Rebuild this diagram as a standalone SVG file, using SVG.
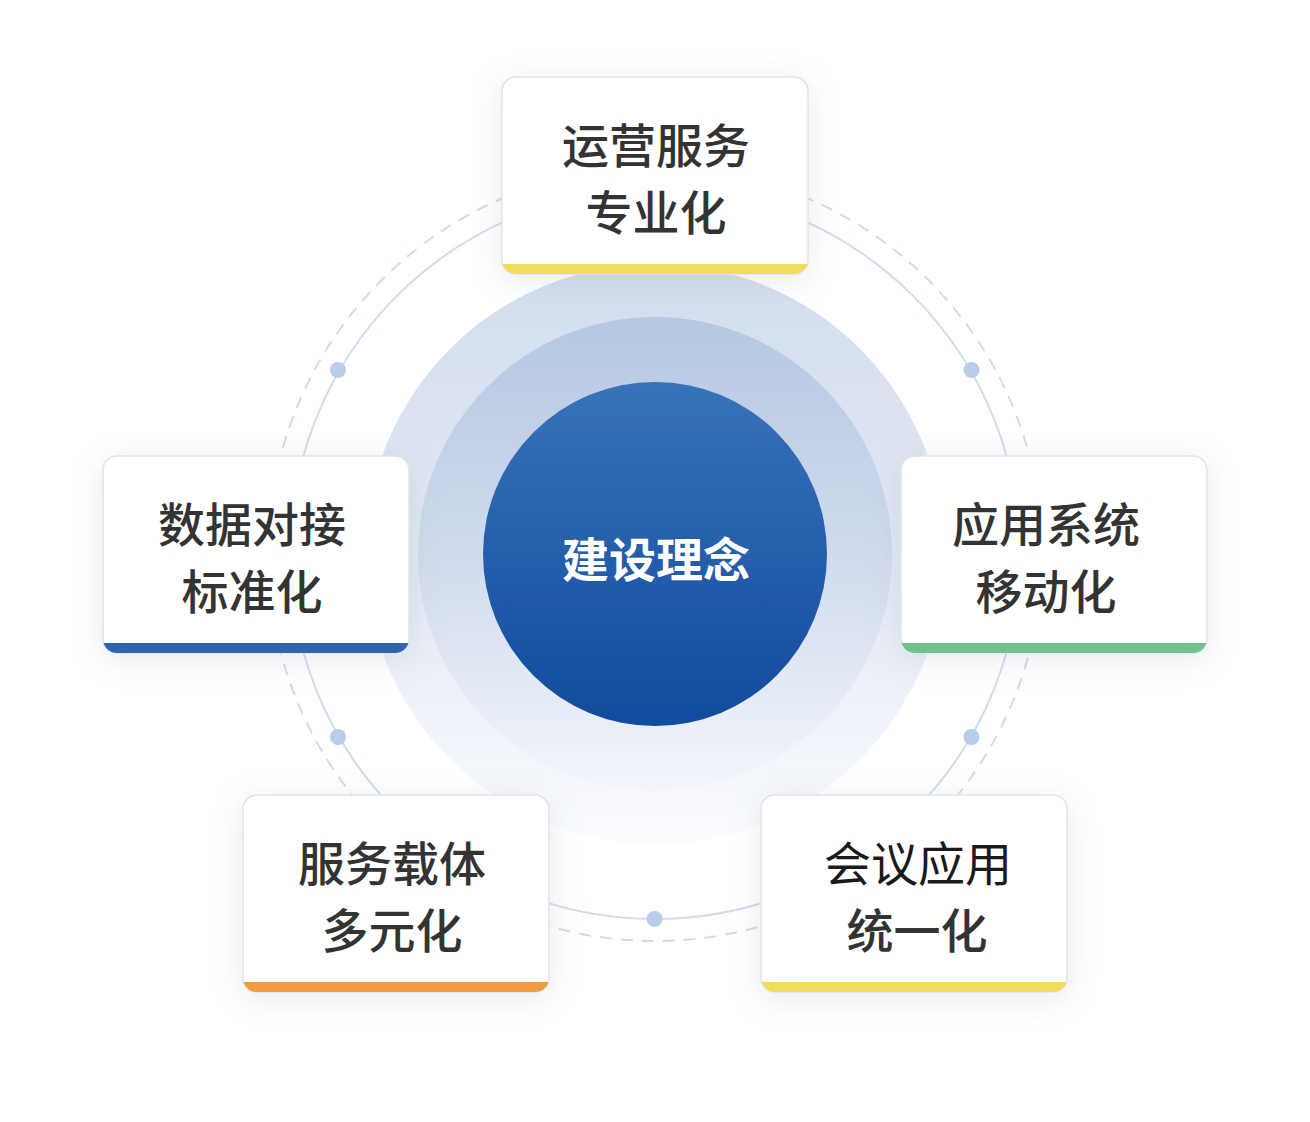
<svg xmlns="http://www.w3.org/2000/svg" width="1310" height="1122" viewBox="0 0 1310 1122">
  <style>
    .card { fill: #ffffff; stroke: #e0e3e9; stroke-width: 1.5; }
    .label { font-family: "Noto Sans CJK SC", "Noto Sans", sans-serif; font-size: 47px; font-weight: 500; fill: #333333; text-anchor: middle; }
    .center-label { font-family: "Noto Sans CJK SC", "Noto Sans", sans-serif; font-size: 47px; font-weight: 600; fill: #ffffff; text-anchor: middle; }
    .ring { fill: none; stroke: #d0dbee; stroke-width: 2; }
    .ring-dash { fill: none; stroke: #d0dbee; stroke-width: 2; stroke-dasharray: 12 9; }
    .dot { fill: #b9cdea; }
  </style>
  <defs>
    <linearGradient id="gOuter" x1="0" y1="0" x2="0" y2="1">
      <stop offset="0" stop-color="#d3ddee"/>
      <stop offset="0.55" stop-color="#e3e9f4"/>
      <stop offset="1" stop-color="#fbfcfe"/>
    </linearGradient>
    <linearGradient id="gMid" x1="0" y1="0" x2="0" y2="1">
      <stop offset="0" stop-color="#b5c7e2"/>
      <stop offset="0.55" stop-color="#d3ddee"/>
      <stop offset="1" stop-color="#f3f6fb"/>
    </linearGradient>
    <linearGradient id="gCore" x1="0" y1="0" x2="0" y2="1">
      <stop offset="0" stop-color="#3872b9"/>
      <stop offset="1" stop-color="#124a9d"/>
    </linearGradient>
    <filter id="shadow" x="-30%" y="-30%" width="160%" height="170%">
      <feDropShadow dx="0" dy="6" stdDeviation="16" flood-color="#7d8aa6" flood-opacity="0.18"/>
    </filter>
    <clipPath id="clipCard">
      <rect x="0" y="0" width="306" height="197" rx="14" ry="14"/>
    </clipPath>
  </defs>

  <rect x="0" y="0" width="1310" height="1122" fill="#ffffff"/>

  <g id="halo">
    <circle cx="655" cy="554" r="290" fill="url(#gOuter)"/>
    <circle cx="655" cy="554" r="237" fill="url(#gMid)"/>
  </g>

  <g id="connectors">
    <circle class="ring-dash" cx="655" cy="554" r="387"/>
    <circle class="ring" cx="655" cy="554" r="365"/>
    <circle class="dot" cx="338" cy="370" r="8"/>
    <circle class="dot" cx="971.5" cy="370" r="8"/>
    <circle class="dot" cx="338" cy="737" r="8"/>
    <circle class="dot" cx="971.5" cy="737" r="8"/>
    <circle class="dot" cx="654.5" cy="919" r="8"/>
  </g>

  <g id="center">
    <circle cx="655" cy="554" r="172" fill="url(#gCore)"/>
    <text class="center-label" x="656" y="577">建设理念</text>
  </g>

  <g id="card-top" transform="translate(502,77)">
    <g filter="url(#shadow)">
      <rect class="card" x="0" y="0" width="306" height="197" rx="14" ry="14"/>
    </g>
    <rect x="0" y="187" width="306" height="10" fill="#f1dc5b" clip-path="url(#clipCard)"/>
    <text class="label" x="154" y="86">运营服务</text>
    <text class="label" x="154" y="153">专业化</text>
  </g>

  <g id="card-left" transform="translate(103,456)">
    <g filter="url(#shadow)">
      <rect class="card" x="0" y="0" width="306" height="197" rx="14" ry="14"/>
    </g>
    <rect x="0" y="187" width="306" height="10" fill="#2f64b0" clip-path="url(#clipCard)"/>
    <text class="label" x="149" y="86">数据对接</text>
    <text class="label" x="149" y="153">标准化</text>
  </g>

  <g id="card-right" transform="translate(901,456)">
    <g filter="url(#shadow)">
      <rect class="card" x="0" y="0" width="306" height="197" rx="14" ry="14"/>
    </g>
    <rect x="0" y="187" width="306" height="10" fill="#70c18e" clip-path="url(#clipCard)"/>
    <text class="label" x="145" y="86">应用系统</text>
    <text class="label" x="145" y="153">移动化</text>
  </g>

  <g id="card-bottom-left" transform="translate(243,795)">
    <g filter="url(#shadow)">
      <rect class="card" x="0" y="0" width="306" height="197" rx="14" ry="14"/>
    </g>
    <rect x="0" y="187" width="306" height="10" fill="#f29b3e" clip-path="url(#clipCard)"/>
    <text class="label" x="149" y="86">服务载体</text>
    <text class="label" x="149" y="153">多元化</text>
  </g>

  <g id="card-bottom-right" transform="translate(761,795)">
    <g filter="url(#shadow)">
      <rect class="card" x="0" y="0" width="306" height="197" rx="14" ry="14"/>
    </g>
    <rect x="0" y="187" width="306" height="10" fill="#f1dc5b" clip-path="url(#clipCard)"/>
    <text class="label" x="157" y="86" style="fill:#1a1a1a;font-weight:400">会议应用</text>
    <text class="label" x="156" y="153">统一化</text>
  </g>
</svg>
